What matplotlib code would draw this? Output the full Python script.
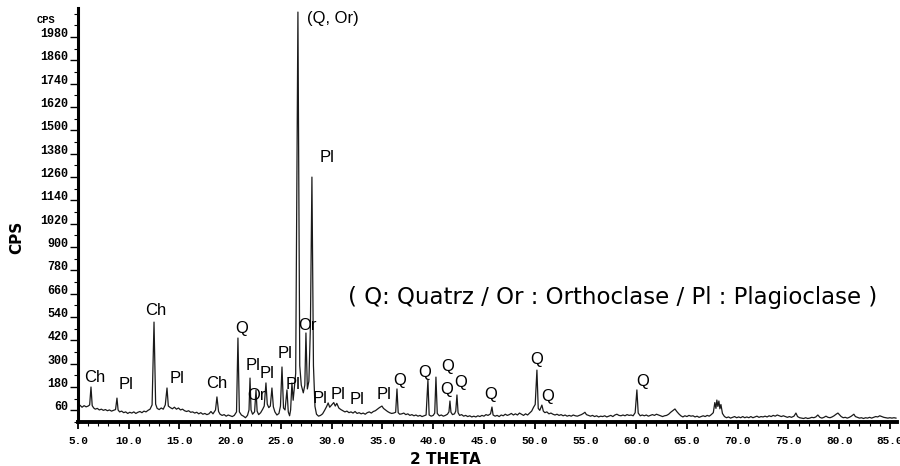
import matplotlib
matplotlib.use('Agg')
import matplotlib.pyplot as plt
from matplotlib.ticker import MultipleLocator

# XRD pattern, as (2 theta, CPS) pairs
low_angle = [
    (5.0, 80), (5.2, 86), (5.4, 76), (5.6, 84), (5.8, 78), (6.0, 82), (6.15, 88), (6.28, 180),
    (6.4, 84), (6.55, 72), (6.7, 66), (6.9, 70), (7.1, 62), (7.3, 66), (7.5, 60), (7.7, 64),
    (7.9, 58), (8.1, 62), (8.3, 56), (8.5, 60), (8.7, 64), (8.84, 123), (8.95, 62), (9.1, 52),
    (9.3, 56), (9.5, 48), (9.7, 52), (9.9, 44), (10.1, 50), (10.3, 46), (10.5, 52), (10.7, 44),
    (10.9, 50), (11.1, 54), (11.3, 48), (11.5, 56), (11.7, 52), (11.9, 60), (12.1, 66), (12.3, 88),
    (12.49, 514), (12.65, 92), (12.8, 70), (13.0, 64), (13.2, 72), (13.4, 66), (13.6, 88),
    (13.77, 175), (13.9, 82), (14.1, 74), (14.3, 68), (14.5, 76), (14.7, 66), (14.9, 72),
    (15.1, 62), (15.3, 66), (15.5, 58), (15.7, 54), (15.9, 58), (16.1, 50), (16.3, 52), (16.5, 46),
    (16.7, 50), (16.9, 42), (17.1, 48), (17.3, 40), (17.5, 44), (17.7, 38), (17.9, 42), (18.1, 54),
    (18.3, 42), (18.55, 62), (18.69, 129), (18.85, 54), (19.0, 40), (19.2, 34), (19.4, 38),
    (19.6, 30), (19.8, 36), (20.0, 32), (20.2, 28), (20.4, 34),
]
main_region = [
    (20.62, 52), (20.76, 432), (20.9, 52), (21.1, 36), (21.3, 30), (21.5, 22), (21.7, 34),
    (21.85, 62), (21.95, 226), (22.05, 62), (22.2, 40), (22.4, 52), (22.54, 165), (22.65, 56),
    (22.8, 38), (23.0, 48), (23.2, 66), (23.35, 82), (23.52, 201), (23.65, 92), (23.8, 74),
    (23.95, 82), (24.11, 175), (24.25, 78), (24.4, 52), (24.6, 36), (24.8, 44), (24.95, 82),
    (25.1, 283), (25.25, 72), (25.4, 62), (25.59, 165), (25.72, 52), (25.85, 32), (25.95, 62),
    (26.08, 201), (26.2, 112), (26.45, 250), (26.67, 2109), (26.85, 290), (27.0, 190), (27.2, 150),
    (27.35, 190), (27.46, 458), (27.6, 170), (27.75, 210), (27.9, 490), (28.05, 1260), (28.2, 290),
    (28.35, 80), (28.5, 40), (28.7, 30), (28.9, 34), (29.1, 42), (29.3, 60), (29.5, 80), (29.65, 98),
    (29.8, 76), (30.0, 88), (30.2, 100), (30.35, 82), (30.5, 96), (30.7, 72), (30.9, 64), (31.1, 58),
    (31.3, 52), (31.5, 56), (31.7, 48), (31.9, 52), (32.1, 46), (32.3, 54), (32.5, 44), (32.7, 48),
    (32.9, 42), (33.1, 46), (33.3, 40), (33.5, 48), (33.7, 52), (33.9, 46), (34.1, 54), (34.3, 58),
    (34.5, 66), (34.7, 74), (34.95, 82), (35.1, 70), (35.3, 62), (35.5, 54), (35.7, 48), (35.9, 44),
    (36.1, 46), (36.3, 50), (36.43, 170), (36.55, 48), (36.7, 40),
]
mid_angle = [
    (36.9, 42), (37.1, 46), (37.3, 38), (37.5, 42), (37.7, 34), (37.9, 38), (38.1, 32), (38.3, 36),
    (38.5, 30), (38.7, 34), (38.9, 28), (39.1, 32), (39.3, 36), (39.48, 216), (39.6, 36), (39.8, 30),
    (40.0, 34), (40.15, 46), (40.27, 231), (40.4, 44), (40.6, 32), (40.8, 36), (41.0, 30), (41.2, 34),
    (41.4, 40), (41.55, 52), (41.65, 108), (41.75, 50), (41.9, 38), (42.1, 42), (42.22, 56),
    (42.34, 139), (42.45, 48), (42.6, 34), (42.8, 38), (43.0, 30), (43.2, 34), (43.4, 28), (43.6, 32),
    (43.8, 26), (44.0, 30), (44.2, 26), (44.4, 32), (44.6, 28), (44.8, 34), (45.0, 30), (45.2, 38),
    (45.4, 34), (45.65, 42), (45.79, 77), (45.9, 36), (46.1, 30), (46.3, 34), (46.5, 28), (46.7, 36),
    (46.9, 32), (47.1, 40), (47.3, 34), (47.5, 38), (47.7, 44), (47.9, 36), (48.1, 42), (48.3, 36),
    (48.5, 46), (48.7, 40), (48.9, 34), (49.1, 42), (49.3, 36), (49.5, 46), (49.7, 56), (49.9, 77),
    (50.05, 90), (50.22, 267), (50.35, 70), (50.5, 60), (50.71, 87), (50.85, 56), (51.0, 48),
    (51.2, 52), (51.4, 42), (51.6, 46), (51.8, 40), (52.0, 36), (52.2, 40), (52.4, 34), (52.6, 38),
    (52.8, 32), (53.0, 36), (53.2, 30), (53.4, 34), (53.6, 30), (53.8, 36), (54.0, 32), (54.2, 30),
    (54.4, 34), (54.6, 38), (54.8, 44), (54.95, 50), (55.1, 38), (55.3, 34), (55.5, 30), (55.7, 34),
    (55.9, 28), (56.1, 32), (56.3, 26), (56.5, 30), (56.7, 28), (56.9, 32), (57.1, 26), (57.3, 30),
    (57.5, 34), (57.7, 28), (57.9, 36), (58.1, 40), (58.3, 34), (58.5, 32), (58.7, 36), (58.9, 32),
    (59.1, 38), (59.3, 34), (59.5, 36), (59.7, 32), (59.9, 48), (60.07, 165), (60.2, 46), (60.4, 32),
    (60.6, 36), (60.8, 32), (61.0, 36), (61.2, 30), (61.4, 34), (61.6, 38), (61.8, 34), (62.0, 40),
    (62.2, 36), (62.4, 32), (62.6, 28), (62.8, 32), (63.0, 34), (63.2, 40), (63.4, 50), (63.6, 58),
    (63.82, 67), (64.0, 54), (64.2, 42), (64.4, 32), (64.6, 26), (64.8, 32), (65.0, 28), (65.2, 34),
    (65.4, 30), (65.6, 32), (65.8, 26), (66.0, 30), (66.2, 24), (66.4, 28), (66.6, 32), (66.8, 28),
    (67.0, 34), (67.2, 30), (67.4, 38), (67.6, 48), (67.75, 100), (67.86, 70), (67.95, 113),
    (68.05, 80), (68.15, 108), (68.25, 68), (68.35, 90), (68.5, 44), (68.7, 28), (68.9, 22),
]
high_angle = [
    (69.1, 26), (69.3, 20), (69.5, 24), (69.7, 28), (69.9, 22), (70.1, 26), (70.3, 22), (70.5, 28),
    (70.7, 22), (70.9, 26), (71.1, 22), (71.3, 28), (71.5, 22), (71.7, 26), (71.9, 30), (72.1, 24),
    (72.3, 28), (72.5, 26), (72.7, 30), (72.9, 26), (73.1, 32), (73.3, 28), (73.5, 34), (73.7, 30),
    (73.9, 36), (74.1, 32), (74.3, 28), (74.5, 32), (74.7, 28), (74.9, 24), (75.1, 28), (75.3, 24),
    (75.55, 30), (75.74, 46), (75.9, 28), (76.1, 22), (76.3, 20), (76.5, 18), (76.7, 22), (76.9, 18),
    (77.1, 20), (77.3, 24), (77.5, 22), (77.7, 26), (77.9, 36), (78.1, 24), (78.3, 20), (78.5, 24),
    (78.7, 30), (78.9, 24), (79.1, 22), (79.3, 26), (79.5, 32), (79.7, 40), (79.88, 46), (80.05, 36),
    (80.2, 28), (80.4, 22), (80.6, 24), (80.8, 20), (81.0, 24), (81.2, 30), (81.45, 40), (81.6, 28),
    (81.8, 24), (82.0, 20), (82.2, 22), (82.4, 18), (82.6, 22), (82.8, 20), (83.0, 24), (83.2, 20),
    (83.4, 24), (83.6, 28), (83.8, 26), (84.0, 32), (84.2, 28), (84.4, 24), (84.6, 22), (84.8, 20),
    (85.0, 22), (85.2, 20), (85.4, 22), (85.6, 20),
]

# mineral labels: (text, 2 theta, CPS)
peak_labels = [
    ('Ch', 6.67, 231), ('Pl', 9.73, 195), ('Ch', 12.68, 576), ('Pl', 14.75, 226),
    ('Ch', 18.69, 200), ('Q', 21.16, 483), ('Pl', 22.24, 293), ('Or', 22.54, 134),
    ('Pl', 23.62, 252), ('Pl', 25.39, 355), ('Pl', 26.18, 195), ('Or', 27.66, 494),
    ('Pl', 29.53, 1363), ('Pl', 28.84, 123), ('Pl', 30.62, 144), ('Pl', 32.49, 118),
    ('Pl', 35.15, 144), ('Q', 36.72, 216), ('Q', 39.19, 257), ('Q', 41.45, 283),
    ('Q', 41.35, 165), ('Q', 42.73, 201), ('Q', 45.69, 139), ('Q', 50.22, 324),
    ('Q', 51.31, 129), ('Q', 60.67, 206),
]
main_peak_label = '(Q, Or)'
legend_note = '( Q: Quatrz / Or : Orthoclase / Pl : Plagioclase )'

x_ticks = [5, 10, 15, 20, 25, 30, 35, 40, 45, 50, 55, 60, 65, 70, 75, 80, 85]
y_ticks = [60, 180, 300, 420, 540, 660, 780, 900, 1020, 1140, 1260, 1380, 1500, 1620, 1740, 1860, 1980]

pattern = low_angle + main_region + mid_angle + high_angle
two_theta = [p[0] for p in pattern]
cps = [p[1] for p in pattern]

fig = plt.figure(figsize=(9, 4.66), dpi=100)
ax = fig.add_axes([78 / 900, 44 / 466, 819 / 900, 414 / 466])

ax.plot(two_theta, cps, color='#1a1a1a', lw=0.9)
ax.set_xlim(5, 85.7)
ax.set_ylim(0, 2130)

# thick scan-style axes, no box
ax.spines['top'].set_visible(False)
ax.spines['right'].set_visible(False)
ax.spines['left'].set_linewidth(2.2)
ax.spines['bottom'].set_linewidth(2.8)

ax.set_xticks(x_ticks)
ax.set_xticklabels(['%.1f' % t for t in x_ticks])
ax.xaxis.set_minor_locator(MultipleLocator(1))
ax.set_yticks(y_ticks)
ax.set_yticklabels([str(t) for t in y_ticks])
ax.yaxis.set_minor_locator(MultipleLocator(60))

ax.tick_params(axis='x', which='major', length=5, width=1.3, pad=5)
ax.tick_params(axis='x', which='minor', length=3, width=0.8)
ax.tick_params(axis='y', which='major', length=6, width=1.0, pad=1)
ax.tick_params(axis='y', which='minor', length=3, width=0.8)

for lbl in ax.get_xticklabels():
    lbl.set_fontfamily('Liberation Mono')
    lbl.set_fontweight('bold')
    lbl.set_fontsize(8)
for lbl in ax.get_yticklabels():
    lbl.set_fontfamily('Liberation Mono')
    lbl.set_fontweight('bold')
    lbl.set_fontsize(8.5)
    lbl.set_verticalalignment('baseline')

# mineral labels over the peaks
for txt, tx, ty in peak_labels:
    ax.text(tx, ty, txt, ha='center', va='center', fontsize=12, family='Liberation Sans')
ax.text(27.55, 2078, main_peak_label, ha='left', va='center', fontsize=12, family='Liberation Sans')
ax.text(57.7, 643, legend_note, ha='center', va='center', fontsize=16.5, family='DejaVu Sans')

fig.text(37 / 900, 1 - 20 / 466, 'CPS', ha='left', va='center', fontsize=7.5,
         family='Liberation Mono', weight='bold')
fig.text(17 / 900, 1 - 237 / 466, 'CPS', rotation=90, ha='center', va='center',
         fontsize=11, weight='bold')
fig.text(445 / 900, 1 - 459 / 466, '2 THETA', ha='center', va='center', fontsize=11, weight='bold')

fig.savefig('out.png', dpi=100)
